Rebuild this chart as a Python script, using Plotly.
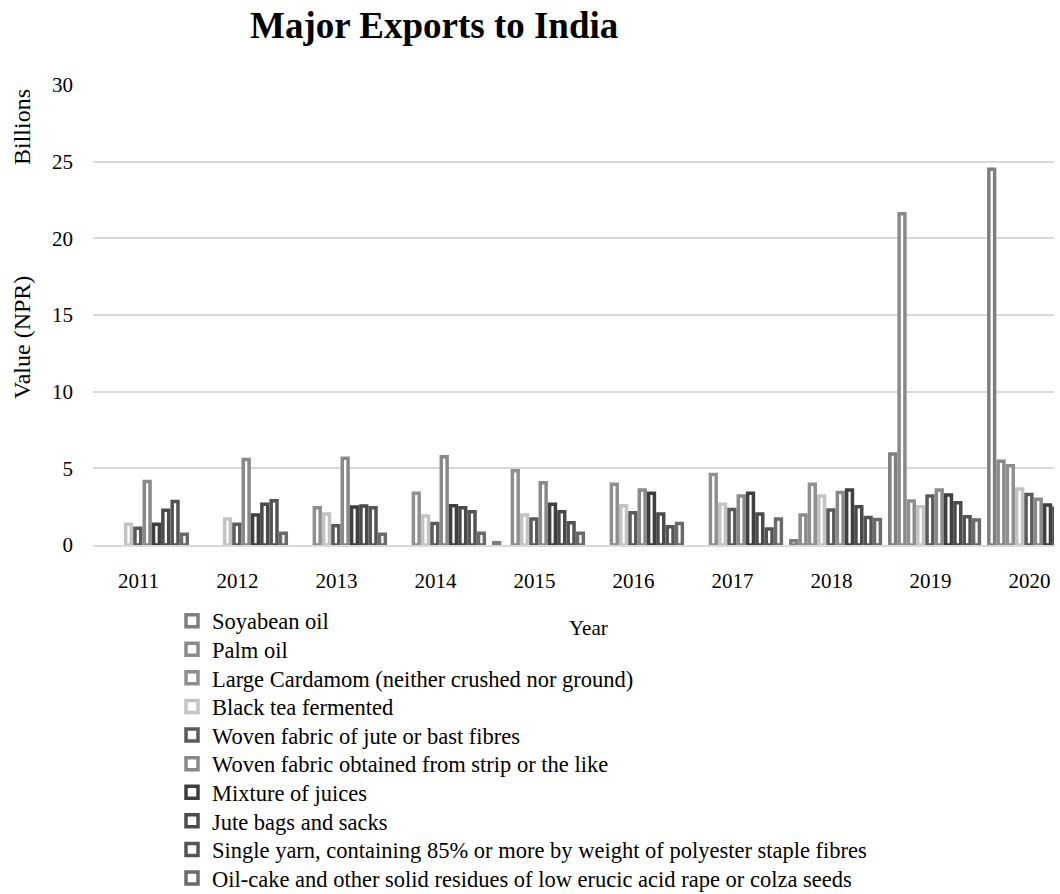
import plotly.graph_objects as go

# Export values to India, billions of NPR (None = no exports recorded that year)
years = ["2011", "2012", "2013", "2014", "2015", "2016", "2017", "2018", "2019", "2020"]

soyabean_oil = [None, None, None, None, 0.15, None, None, 0.28, 5.93, 24.5]
palm_oil = [None, None, None, None, None, None, None, 1.95, 21.6, 5.47]
large_cardamom = [None, None, 2.43, 3.37, 4.84, 3.97, 4.60, 3.97, 2.87, 5.17]
black_tea = [1.35, 1.69, 2.02, 1.89, 1.95, 2.56, 2.65, 3.19, 2.50, 3.65]
woven_jute = [1.09, 1.35, 1.26, 1.41, 1.69, 2.11, 2.32, 2.28, 3.19, 3.30]
woven_strip = [4.14, 5.58, 5.65, 5.75, 4.06, 3.58, 3.19, 3.43, 3.58, 2.98]
mixture_juices = [1.35, 1.95, 2.48, 2.56, 2.65, 3.37, 3.37, 3.58, 3.26, 2.61]
jute_bags = [2.27, 2.65, 2.54, 2.43, 2.17, 2.02, 2.02, 2.50, 2.76, 2.39]
single_yarn = [2.83, 2.89, 2.43, 2.17, 1.45, 1.19, 1.04, 1.80, 1.85, 2.00]
oil_cake = [0.70, 0.76, 0.70, 0.76, 0.76, 1.41, 1.69, 1.67, 1.63, 1.70]

series_names = [
    "Soyabean oil",
    "Palm oil",
    "Large Cardamom (neither crushed nor ground)",
    "Black tea fermented",
    "Woven fabric of jute or bast fibres",
    "Woven fabric obtained from strip or the like",
    "Mixture of juices",
    "Jute bags and sacks",
    "Single yarn, containing 85% or more by weight of polyester staple fibres",
    "Oil-cake and other solid residues of low erucic acid rape or colza seeds",
]
series_values = [
    soyabean_oil, palm_oil, large_cardamom, black_tea, woven_jute,
    woven_strip, mixture_juices, jute_bags, single_yarn, oil_cake,
]
series_colors = [
    "#7f7f7f", "#8a8a8a", "#8f8f8f", "#c3c3c3", "#5a5a5a",
    "#898989", "#3f3f3f", "#4a4a4a", "#545454", "#6a6a6a",
]

SERIF = "Liberation Serif, Times New Roman, serif"

# Plot area in pixels (used to place paper-referenced items)
PLOT_L, PLOT_R, PLOT_T, PLOT_B = 93, 1054, 85, 545
PW, PH = PLOT_R - PLOT_L, PLOT_B - PLOT_T


def px_x(x):
    return (x - PLOT_L) / PW


def px_y(y):
    return (PLOT_B - y) / PH


fig = go.Figure()
legend_layouts = {}
for i, (name, vals, col) in enumerate(zip(series_names, series_values, series_colors)):
    key = "legend" if i == 0 else f"legend{i + 1}"
    fig.add_trace(go.Bar(
        x=years,
        y=vals,
        name=name,
        legend=key,
        marker=dict(color="white", line=dict(color=col, width=3.5)),
    ))
    # one legend box per series so the rows sit on an even pitch
    legend_layouts[key] = dict(
        x=px_x(172), xanchor="left",
        y=px_y(621 + i * 28.6), yanchor="middle",
        orientation="v",
        font=dict(family=SERIF, size=22.5, color="#000000"),
        itemwidth=30,
        bgcolor="rgba(0,0,0,0)",
    )

fig.update_layout(
    width=1060,
    height=894,
    paper_bgcolor="white",
    plot_bgcolor="white",
    barmode="group",
    bargap=0.06,
    bargroupgap=0.376,
    margin=dict(l=PLOT_L, r=1060 - PLOT_R, t=PLOT_T, b=894 - PLOT_B, autoexpand=False),
    font=dict(family=SERIF, color="#000000"),
    showlegend=True,
    xaxis=dict(
        type="category",
        range=[-0.5, 9.206],
        showgrid=False,
        showline=True,
        linecolor="#d9d9d9",
        linewidth=1.5,
        ticks="",
        tickfont=dict(family=SERIF, size=21, color="#000000"),
        ticklabelstandoff=16,
        ticklabelshift=-4,
    ),
    yaxis=dict(
        range=[0, 30],
        tickvals=[0, 5, 10, 15, 20, 25, 30],
        showgrid=True,
        gridcolor="#d9d9d9",
        gridwidth=1.5,
        zeroline=False,
        showline=False,
        ticks="",
        tickfont=dict(family=SERIF, size=21, color="#000000"),
        ticklabelstandoff=19,
    ),
    annotations=[
        dict(text="<b>Major Exports to India</b>", xref="paper", yref="paper",
             x=px_x(433.5), y=px_y(25),
             xanchor="center", yanchor="middle", showarrow=False,
             font=dict(family=SERIF, size=37, color="#000000")),
        dict(text="Billions", xref="paper", yref="paper",
             x=px_x(22), y=px_y(127),
             xanchor="center", yanchor="middle", showarrow=False, textangle=-90,
             font=dict(family=SERIF, size=24, color="#000000")),
        dict(text="Value (NPR)", xref="paper", yref="paper",
             x=px_x(22), y=px_y(338),
             xanchor="center", yanchor="middle", showarrow=False, textangle=-90,
             font=dict(family=SERIF, size=24, color="#000000")),
        dict(text="Year", xref="paper", yref="paper",
             x=px_x(588), y=px_y(628),
             xanchor="center", yanchor="middle", showarrow=False,
             font=dict(family=SERIF, size=21, color="#000000")),
    ],
    **legend_layouts,
)

fig.write_html("out.html")
